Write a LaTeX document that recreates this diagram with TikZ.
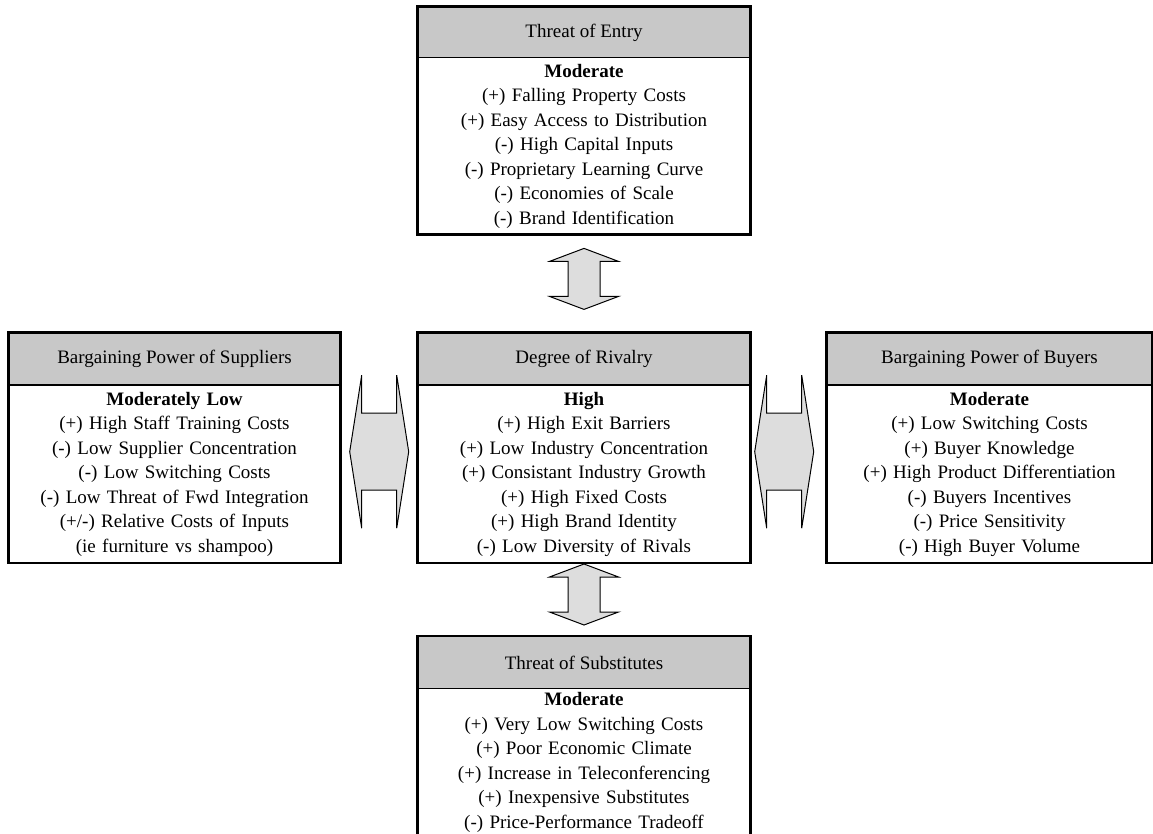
\documentclass[tikz,border=0pt]{standalone}
\usepackage{fontspec}
\setmainfont{Liberation Serif}
\usepackage{tikz}
\usetikzlibrary{positioning,calc}
\definecolor{HeadGray}{HTML}{C8C8C8}
\definecolor{ArrowGray}{HTML}{DDDDDD}
\tikzstyle{head}  =[draw, fill=HeadGray, line width=1.2pt, inner sep=0pt,
                    minimum height=52pt]
\tikzstyle{body}  =[inner sep=0pt, align=center, minimum height=177pt]
\tikzstyle{frame} =[line width=2.6pt]
\tikzstyle{block} =[draw, fill=ArrowGray, line width=1pt, line join=miter]
\tikzset{harrow/.pic={\path[block] (-29.5,0) -- (-17.5,76.5) -- (-17.5,38.5)
            -- (17.5,38.5) -- (17.5,76.5) -- (29.5,0) -- (17.5,-76.5) --
            (17.5,-38.5) -- (-17.5,-38.5) -- (-17.5,-76.5) -- cycle;},
         varrow/.pic={\path[block] (0,-30.5) -- (34.5,-17.5) -- (16,-17.5)
            -- (16,17.5) -- (34.5,17.5) -- (0,30.5) -- (-34.5,17.5) --
            (-16,17.5) -- (-16,-17.5) -- (-34.5,-17.5) -- cycle;}}

\begin{document}
\begin{tikzpicture}[x=1pt, y=-1pt,
        every node/.style = {font=\fontsize{19}{24.5}\selectfont}]
\useasboundingbox (0,0) rectangle (1153,834);
\node (rivalH) [head, minimum width=332pt] at (584,359) {Degree of Rivalry};
\node (rivalB) [body, text width=332pt, below=0pt of rivalH]
    {\textbf{High}\\(+) High Exit Barriers\\(+) Low Industry Concentration\\
     (+) Consistant Industry Growth\\(+) High Fixed Costs\\
     (+) High Brand Identity\\(-) Low Diversity of Rivals};
\node (supH) [head, minimum width=331pt] at (174.5,359)
    {Bargaining Power of Suppliers};
\node (supB) [body, text width=331pt, below=0pt of supH]
    {\textbf{Moderately Low}\\(+) High Staff Training Costs\\
     (-) Low Supplier Concentration\\(-) Low Switching Costs\\
     (-) Low Threat of Fwd Integration\\(+/-) Relative Costs of Inputs\\
     (ie furniture vs shampoo)};
\node (buyH) [head, minimum width=325pt] at (989.5,359)
    {Bargaining Power of Buyers};
\node (buyB) [body, text width=325pt, below=0pt of buyH]
    {\textbf{Moderate}\\(+) Low Switching Costs\\(+) Buyer Knowledge\\
     (+) High Product Differentiation\\(-) Buyers Incentives\\
     (-) Price Sensitivity\\(-) High Buyer Volume};
\node (entB) [body, text width=332pt, minimum height=176pt,
    above=98pt of rivalH]
    {\textbf{Moderate}\\(+) Falling Property Costs\\
     (+) Easy Access to Distribution\\(-) High Capital Inputs\\
     (-) Proprietary Learning Curve\\(-) Economies of Scale\\
     (-) Brand Identification};
\node (entH) [head, minimum width=332pt, minimum height=50pt,
    above=0pt of entB] {Threat of Entry};
\node (subH) [head, minimum width=332pt, below=73pt of rivalB]
    {Threat of Substitutes};
\node (subB) [body, text width=332pt, minimum height=0pt, inner ysep=3pt,
    below=0pt of subH]
    {\textbf{Moderate}\\(+) Very Low Switching Costs\\
     (+) Poor Economic Climate\\(+) Increase in Teleconferencing\\
     (+) Inexpensive Substitutes\\(-) Price-Performance Tradeoff};
\foreach \f in {ent,sup,rival,buy,sub}{
    \draw [frame] (\f H.north west) rectangle (\f H.east |- \f B.south); }
\pic at ($(entB.south)!0.5!(rivalH.north)+(0,-4.5)$) {varrow};
\pic at ($(rivalB.south)!0.5!(subH.north)+(0,-5)$) {varrow};
\pic at ($(supH.north east)!0.5!(rivalB.south west)+(0,4)$) {harrow};
\pic at ($(rivalH.north east)!0.5!(buyB.south west)+(-4.5,4)$) {harrow};
\end{tikzpicture}
\end{document}
